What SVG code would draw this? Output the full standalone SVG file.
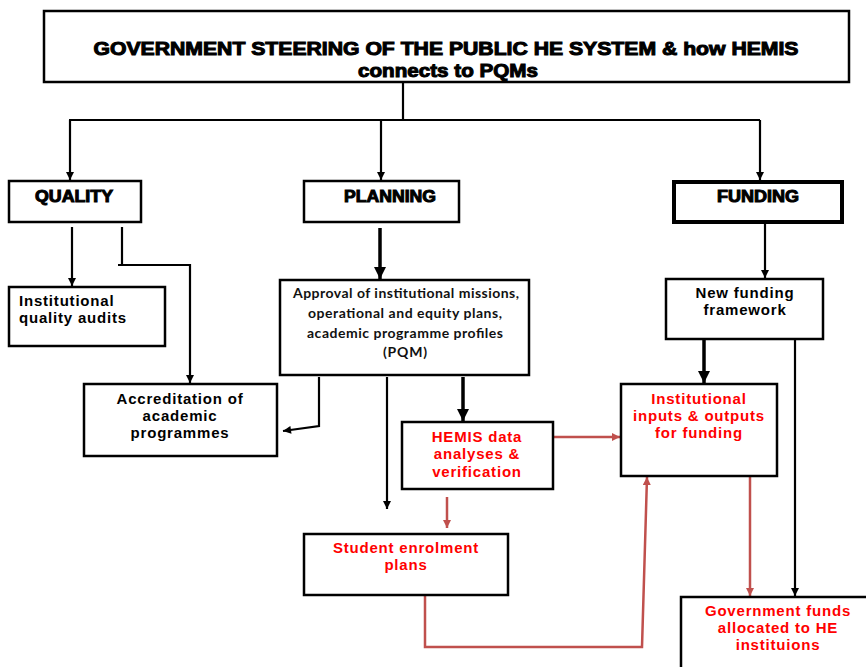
<svg xmlns="http://www.w3.org/2000/svg" width="866" height="667" viewBox="0 0 866 667">
<defs>
<style>
.box{fill:#fff;stroke:#000;stroke-width:2.5}
.hv{font-family:"Liberation Sans",Arial,sans-serif;font-weight:bold;fill:#000;stroke:#000;stroke-width:1;text-anchor:middle}
.t{font-family:"Liberation Sans",Arial,sans-serif;font-weight:bold;font-size:15px;letter-spacing:0.8px;text-anchor:middle;fill:#000}
.r{fill:#ff0000}
.c{font-family:Lato,"Open Sans",sans-serif;font-size:14px;font-weight:bold;text-anchor:middle;fill:#111}
.ln{fill:none;stroke:#000;stroke-width:2.2}
.th{fill:none;stroke:#000;stroke-width:3.5}
.rl{fill:none;stroke:#c0504d;stroke-width:2.5}
</style>
<marker id="a" viewBox="0 0 10 10" refX="10" refY="5" markerUnits="userSpaceOnUse" markerWidth="9" markerHeight="8" orient="auto"><path d="M0,0 L10,5 L0,10 z" fill="#000"/></marker>
<marker id="at" viewBox="0 0 10 10" refX="10" refY="5" markerUnits="userSpaceOnUse" markerWidth="12" markerHeight="12" orient="auto"><path d="M0,0 L10,5 L0,10 z" fill="#000"/></marker>
<marker id="ar" viewBox="0 0 10 10" refX="10" refY="5" markerUnits="userSpaceOnUse" markerWidth="9" markerHeight="8" orient="auto"><path d="M0,0 L10,5 L0,10 z" fill="#c0504d"/></marker>
</defs>
<rect width="866" height="667" fill="#fff"/>

<g id="connectors">
<polyline class="ln" points="403,83 403,120"/>
<polyline class="ln" points="69,120 760,120"/>
<line class="ln" x1="70" y1="120" x2="70" y2="180" marker-end="url(#a)"/>
<line class="ln" x1="381" y1="120" x2="381" y2="180" marker-end="url(#a)"/>
<line class="ln" x1="760" y1="120" x2="760" y2="180" marker-end="url(#a)"/>
<line class="ln" x1="72" y1="227" x2="72" y2="286" marker-end="url(#a)"/>
<polyline class="ln" points="122,227 122,265"/>
<polyline class="ln" points="118,265 190,265 190,383" marker-end="url(#a)"/>
<line class="th" x1="380" y1="228" x2="380" y2="279" marker-end="url(#at)"/>
<polyline class="ln" points="319,377 319,426 283,431" marker-end="url(#a)"/>
<line class="ln" x1="387" y1="377" x2="387" y2="509" marker-end="url(#a)"/>
<line class="th" x1="463" y1="377" x2="463" y2="421" marker-end="url(#at)"/>
<line class="rl" x1="553" y1="437" x2="620" y2="437" marker-end="url(#ar)"/>
<line class="rl" x1="447" y1="497" x2="447" y2="528" marker-end="url(#ar)"/>
<polyline class="rl" points="425,596 425,647 642,647 647,477" marker-end="url(#ar)"/>
<line class="ln" x1="765" y1="222" x2="765" y2="278" marker-end="url(#a)"/>
<line class="th" x1="704" y1="340" x2="704" y2="383" marker-end="url(#at)"/>
<line class="ln" x1="795" y1="340" x2="795" y2="596" marker-end="url(#a)"/>
<line class="rl" x1="750" y1="477" x2="750" y2="596" marker-end="url(#ar)"/>
</g>

<g id="title">
<rect class="box" x="44" y="11" width="805" height="71"/>
<text class="hv" x="446" y="55" font-size="18" textLength="705" lengthAdjust="spacingAndGlyphs">GOVERNMENT STEERING OF THE PUBLIC HE SYSTEM &amp; how HEMIS</text>
<text class="hv" x="448" y="77" font-size="18" textLength="180" lengthAdjust="spacingAndGlyphs">connects to PQMs</text>
</g>

<g id="quality">
<rect class="box" x="9" y="181" width="132" height="41"/>
<text class="hv" x="74" y="202" font-size="16" textLength="78" lengthAdjust="spacingAndGlyphs">QUALITY</text>
</g>

<g id="planning">
<rect class="box" x="304" y="181" width="155" height="41"/>
<text class="hv" x="390" y="202" font-size="16" textLength="92" lengthAdjust="spacingAndGlyphs">PLANNING</text>
</g>

<g id="funding">
<rect x="674" y="182" width="168" height="40" fill="#fff" stroke="#000" stroke-width="4"/>
<text class="hv" x="758" y="202" font-size="16" textLength="82" lengthAdjust="spacingAndGlyphs">FUNDING</text>
</g>

<g id="quality-audits">
<rect class="box" x="9" y="287" width="156" height="59"/>
<text class="t" x="19" y="306" style="text-anchor:start">Institutional</text>
<text class="t" x="19" y="323" style="text-anchor:start">quality audits</text>
</g>

<g id="accreditation">
<rect class="box" x="84" y="384" width="193" height="72"/>
<text class="t" x="180" y="404">Accreditation of</text>
<text class="t" x="180" y="421">academic</text>
<text class="t" x="180" y="438">programmes</text>
</g>

<g id="approval">
<rect class="box" x="280" y="280" width="249" height="95"/>
<text class="c" x="406" y="298" textLength="226">Approval of institutional missions,</text>
<text class="c" x="405" y="318" textLength="194">operational and equity plans,</text>
<text class="c r" x="405" y="338" textLength="196">academic programme profiles</text>
<text class="c r" x="405" y="357" textLength="44">(PQM)</text>
</g>

<g id="hemis">
<rect class="box" x="402" y="422" width="151" height="67"/>
<text class="t r" x="477" y="442">HEMIS data</text>
<text class="t r" x="477" y="459">analyses &amp;</text>
<text class="t r" x="477" y="477">verification</text>
</g>

<g id="student-enrolment">
<rect class="box" x="304" y="534" width="204" height="61"/>
<text class="t r" x="406" y="553">Student enrolment</text>
<text class="t r" x="406" y="570">plans</text>
</g>

<g id="new-funding">
<rect class="box" x="666" y="279" width="157" height="60"/>
<text class="t" x="745" y="298">New funding</text>
<text class="t" x="745" y="315">framework</text>
</g>

<g id="inputs-outputs">
<rect class="box" x="621" y="384" width="156" height="92"/>
<text class="t r" x="699" y="404">Institutional</text>
<text class="t r" x="699" y="421">inputs &amp; outputs</text>
<text class="t r" x="699" y="438">for funding</text>
</g>

<g id="government-funds">
<rect class="box" x="681" y="597" width="200" height="80"/>
<text class="t r" x="778" y="616">Government funds</text>
<text class="t r" x="778" y="633">allocated to HE</text>
<text class="t r" x="778" y="650">instituions</text>
</g>
</svg>
